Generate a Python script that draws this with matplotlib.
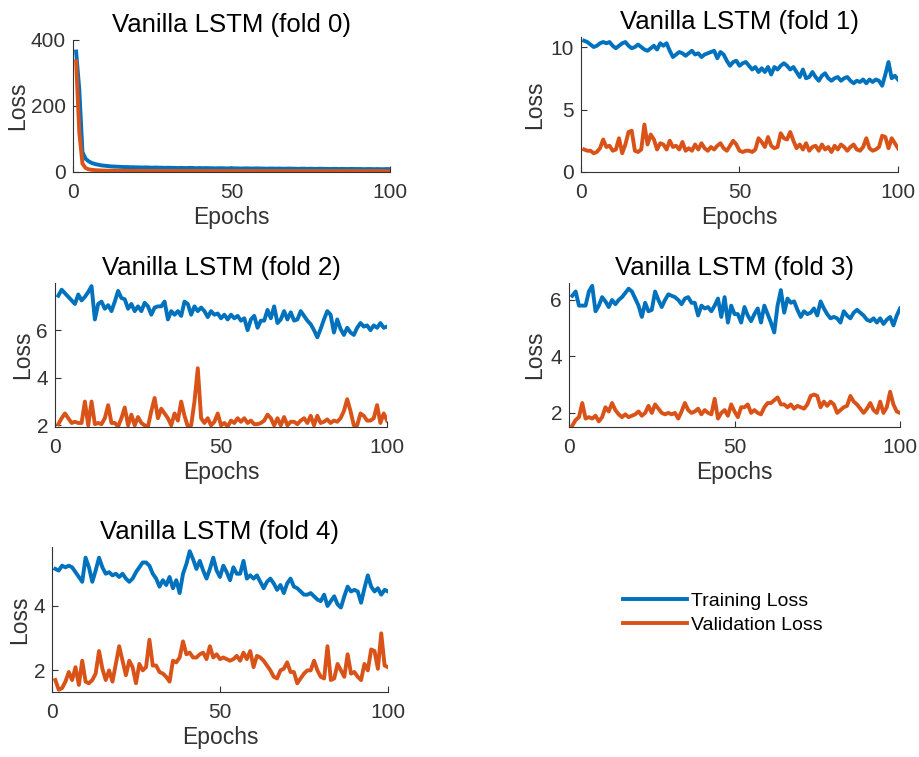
# Training / validation loss curves of a vanilla LSTM, one panel per fold
import matplotlib.pyplot as plt

plt.rcParams['font.family'] = ['Liberation Sans', 'DejaVu Sans']

# ---------------------------------------------------------------------------
# DATA
# ---------------------------------------------------------------------------
epochs = list(range(1, 101))
fold_titles = ['Vanilla LSTM (fold 0)', 'Vanilla LSTM (fold 1)', 'Vanilla LSTM (fold 2)',
               'Vanilla LSTM (fold 3)', 'Vanilla LSTM (fold 4)']
legend_labels = ['Training Loss', 'Validation Loss']

train_f0 = [365, 250, 60, 40, 32, 27, 24, 22, 20, 19,
            18, 17, 16.5, 16, 15.5, 15, 15, 14.5, 14.5, 14,
            14, 13.5, 14, 13.5, 13, 13.5, 13, 13, 12.5, 13,
            12.5, 12.5, 12, 12.5, 12, 12, 12.5, 12, 11.5, 12,
            11.5, 12, 11.5, 11.5, 11, 11.5, 11.5, 11, 11, 11.5,
            11, 11, 10.5, 11, 11, 10.5, 10.5, 11, 10.5, 10.5,
            10, 10.5, 10.5, 10, 10.5, 10, 10, 10.5, 10, 10,
            9.5, 10, 10, 9.5, 10, 9.5, 9.5, 10, 9.5, 9.5,
            9, 9.5, 9.5, 9, 9.5, 9, 9, 9.5, 9, 9,
            9, 8.5, 9, 9, 8.5, 9, 8.5, 8.5, 9, 8.5]
val_f0 = [335, 120, 25, 12, 8, 6.5, 5.5, 5, 4.5, 4.2,
          4, 3.8, 4.2, 3.6, 3.5, 3.9, 3.4, 3.3, 3.7, 3.2,
          3.5, 3.1, 3.4, 3.0, 3.3, 3.2, 2.9, 3.4, 3.0, 3.1,
          2.9, 3.3, 2.8, 3.0, 3.2, 2.8, 3.1, 2.9, 2.7, 3.2,
          2.8, 3.0, 2.9, 2.7, 3.1, 2.8, 2.9, 3.0, 2.6, 2.9,
          2.8, 3.0, 2.7, 2.8, 3.1, 2.7, 2.9, 2.6, 2.8, 3.0,
          2.7, 2.8, 2.9, 2.6, 3.0, 2.7, 2.8, 2.6, 2.9, 2.7,
          2.8, 2.6, 3.0, 2.7, 2.6, 2.9, 2.7, 2.8, 2.5, 2.8,
          2.7, 2.9, 2.6, 2.7, 2.8, 2.6, 2.9, 2.7, 2.5, 2.8,
          2.7, 2.6, 2.8, 2.7, 2.9, 2.6, 2.7, 2.8, 2.6, 2.7]

train_f1 = [10.5, 10.4, 10.2, 10.0, 10.1, 10.3, 10.4, 10.3, 10.4, 10.1,
            9.9, 10.1, 10.3, 10.4, 10.1, 9.9, 10.0, 10.2, 10.0, 9.8,
            9.7, 9.9, 10.1, 9.8, 10.3, 10.1, 10.3, 9.7, 9.2, 9.4,
            9.6, 9.5, 9.3, 9.5, 9.7, 9.4, 9.5, 9.2, 9.4, 9.5,
            9.6, 9.7, 9.1, 9.6, 9.4, 8.9, 8.5, 8.8, 8.9, 8.5,
            8.7, 8.8, 8.5, 8.2, 8.4, 8.0, 8.3, 8.0, 8.4, 7.8,
            8.4, 8.2, 8.5, 8.7, 8.5, 8.2, 8.4, 8.0, 7.6, 8.2,
            7.5, 7.6, 8.0, 7.6, 7.3, 7.7, 7.9, 7.5, 7.3, 7.5,
            7.6, 7.3, 7.5, 7.6, 7.3, 7.1, 7.3, 7.2, 7.4, 7.1,
            7.4, 7.2, 7.4, 7.3, 6.9, 7.8, 8.8, 7.5, 7.7, 7.4]
val_f1 = [1.8, 1.7, 1.7, 1.5, 1.6, 1.9, 2.6, 2.0, 2.1, 1.7,
          1.8, 2.7, 1.5, 2.2, 3.2, 3.3, 1.7, 1.6, 1.8, 3.8,
          2.2, 3.0, 2.6, 1.8, 2.3, 2.2, 1.8, 2.5, 2.0, 2.1,
          1.8, 2.4, 1.7, 1.9, 1.7, 2.2, 1.8, 2.3, 1.9, 1.7,
          2.0, 1.8, 2.1, 2.3, 1.9, 1.7, 2.1, 2.5, 2.2, 1.7,
          1.6, 1.7, 1.7, 1.6, 1.8, 2.7, 2.4, 2.0, 2.8, 2.1,
          1.9, 2.0, 3.1, 2.7, 2.6, 3.2, 2.5, 1.9, 2.2, 1.8,
          2.3, 1.7, 2.0, 2.1, 1.7, 2.2, 1.8, 2.0, 1.6, 2.1,
          1.8, 2.2, 2.0, 1.7, 2.0, 2.2, 1.8, 1.7, 2.0, 2.7,
          1.9, 1.7, 1.8, 2.0, 2.9, 2.8, 1.9, 2.7, 2.3, 1.9]

train_f2 = [7.45, 7.7, 7.55, 7.4, 7.25, 7.1, 7.5, 7.25, 7.4, 7.6,
            7.85, 6.45, 7.1, 7.2, 6.9, 7.05, 6.8, 7.2, 7.65, 7.35,
            7.3, 6.9, 7.1, 6.8, 7.0, 6.8, 7.15, 7.0, 6.65, 6.95,
            7.0, 7.0, 7.2, 6.45, 6.8, 6.65, 6.8, 6.6, 7.2, 7.1,
            6.65, 7.0, 6.8, 6.95, 6.8, 6.55, 6.8, 6.65, 6.7, 6.5,
            6.65, 6.45, 6.65, 6.5, 6.6, 6.4, 6.5, 6.0, 6.45, 6.6,
            6.1, 6.4, 6.4, 6.85, 6.5, 7.0, 6.3, 6.45, 6.8, 6.45,
            6.75, 6.4, 6.45, 6.8, 6.6, 6.4, 6.25, 6.0, 5.7, 6.05,
            6.45, 6.8, 6.65, 5.9, 6.45, 6.05, 5.8, 6.1, 5.9, 5.8,
            6.1, 6.3, 6.15, 6.2, 6.0, 6.2, 6.1, 6.3, 6.1, 6.15]
val_f2 = [2.05, 2.3, 2.5, 2.3, 2.1, 2.15, 2.1, 2.1, 3.0, 2.0,
          3.0, 2.05, 2.1, 2.05, 2.3, 2.85, 2.1, 2.1, 1.95, 2.3,
          2.75, 2.0, 2.45, 2.0, 2.35, 2.1, 2.0, 1.95, 2.6, 3.15,
          2.3, 2.7, 2.5, 2.3, 2.0, 2.5, 2.2, 3.0, 2.4, 1.95,
          2.0, 3.0, 4.4, 2.3, 2.1, 2.3, 2.0, 2.15, 2.5, 2.0,
          2.1, 1.95, 2.2, 2.1, 2.3, 2.15, 2.3, 2.1, 2.2, 2.05,
          2.05, 2.1, 2.2, 2.45, 2.3, 2.0, 2.3, 2.0, 2.35, 2.0,
          2.15, 2.15, 2.05, 2.2, 2.3, 2.1, 2.4, 2.0, 2.4, 2.1,
          2.15, 2.25, 2.1, 2.2, 2.15, 2.3, 2.6, 3.1, 2.6, 2.0,
          2.0, 2.5, 2.4, 2.2, 2.2, 2.3, 2.85, 2.1, 2.5, 2.2]

train_f3 = [6.15, 6.3, 5.8, 5.8, 5.8, 6.3, 6.5, 5.6, 5.8, 6.1,
            5.95, 5.75, 6.0, 5.85, 6.0, 6.1, 6.25, 6.4, 6.3, 6.05,
            5.8, 5.4, 5.9, 5.6, 5.65, 6.3, 6.0, 5.75, 6.0, 6.2,
            6.15, 6.1, 6.0, 5.85, 6.05, 6.1, 5.9, 5.9, 5.45, 5.8,
            5.7, 5.75, 5.6, 5.8, 6.05, 5.4, 6.1, 5.2, 5.8, 5.5,
            5.5, 5.2, 5.75, 5.45, 5.25, 5.5, 5.7, 5.2, 5.8, 5.5,
            5.2, 4.85, 5.8, 6.35, 5.55, 6.05, 5.9, 5.95, 5.65, 5.4,
            5.6, 5.5, 5.55, 5.7, 5.45, 5.95, 5.7, 5.5, 5.35, 5.4,
            5.35, 5.2, 5.6, 5.45, 5.35, 5.55, 5.65, 5.55, 5.45, 5.3,
            5.25, 5.35, 5.2, 5.35, 5.15, 5.3, 5.4, 5.1, 5.45, 5.7]
val_f3 = [1.55, 1.75, 1.85, 2.35, 1.8, 1.85, 1.8, 1.9, 1.7, 1.85,
          2.2, 2.05, 2.35, 2.1, 1.95, 1.85, 1.95, 1.85, 1.9, 1.95,
          2.05, 1.9, 2.0, 2.25, 2.0, 2.3, 2.15, 2.0, 1.95, 2.0,
          1.95, 2.0, 1.8, 2.05, 2.35, 2.1, 2.0, 2.05, 2.15, 1.95,
          2.1, 2.0, 1.95, 2.5, 1.8, 2.0, 2.1, 1.9, 2.3, 2.05,
          1.85, 2.2, 2.2, 2.3, 2.0, 2.1, 2.0, 1.95, 2.2, 2.35,
          2.35, 2.45, 2.55, 2.3, 2.3, 2.2, 2.3, 2.15, 2.25, 2.2,
          2.15, 2.3, 2.6, 2.65, 2.6, 2.2, 2.4, 2.25, 2.4, 2.3,
          2.0, 2.1, 2.2, 2.25, 2.6, 2.4, 2.3, 2.15, 2.0, 2.15,
          2.35, 2.1, 2.0, 2.4, 2.0, 2.2, 2.75, 2.3, 2.05, 2.0]

train_f4 = [5.15, 5.1, 5.25, 5.2, 5.25, 5.2, 5.05, 4.9, 4.75, 5.5,
            5.2, 4.75, 5.1, 5.5, 5.2, 5.0, 5.05, 4.95, 5.0, 4.9,
            5.0, 4.85, 4.75, 4.85, 5.05, 5.2, 5.35, 5.35, 5.25, 5.0,
            4.85, 4.6, 4.8, 4.65, 4.9, 4.55, 4.8, 4.4, 5.0, 5.3,
            5.7, 5.45, 5.15, 5.4, 5.1, 4.85, 5.15, 5.5, 5.1, 4.9,
            5.25, 5.05, 4.8, 5.2, 5.0, 5.0, 5.4, 4.85, 4.95, 4.85,
            4.95, 4.75, 4.55, 4.75, 4.85, 4.7, 4.5, 4.65, 4.4, 4.7,
            4.85, 4.6, 4.55, 4.45, 4.35, 4.35, 4.4, 4.3, 4.2, 4.15,
            4.35, 4.0, 4.15, 4.3, 4.05, 3.95, 4.3, 4.6, 4.45, 4.5,
            4.45, 4.1, 4.55, 4.95, 4.6, 4.45, 4.55, 4.35, 4.5, 4.45]
val_f4 = [1.7, 1.4, 1.45, 1.65, 1.95, 1.7, 2.1, 1.55, 2.3, 1.65,
          1.6, 1.7, 1.9, 2.6, 2.05, 1.7, 2.0, 1.65, 2.2, 2.75,
          2.3, 1.85, 2.3, 2.1, 1.6, 2.2, 2.0, 2.1, 2.95, 2.15,
          2.15, 1.95, 1.9, 1.8, 1.65, 2.3, 2.25, 2.4, 2.9, 2.5,
          2.55, 2.4, 2.4, 2.5, 2.55, 2.35, 2.75, 2.4, 2.5, 2.35,
          2.4, 2.35, 2.3, 2.35, 2.45, 2.3, 2.55, 2.35, 2.6, 2.1,
          2.45, 2.4, 2.3, 2.15, 2.0, 1.8, 1.75, 2.0, 2.05, 2.25,
          1.95, 1.95, 1.6, 1.75, 1.9, 2.0, 2.0, 2.3, 2.0, 1.8,
          1.75, 2.75, 1.7, 1.75, 2.2, 2.0, 1.8, 2.5, 1.9, 1.95,
          1.8, 1.7, 2.2, 2.0, 2.65, 2.6, 2.05, 3.15, 2.15, 2.1]

train_all = [train_f0, train_f1, train_f2, train_f3, train_f4]
val_all = [val_f0, val_f1, val_f2, val_f3, val_f4]

# ---------------------------------------------------------------------------
# LAYOUT AND STYLE
# ---------------------------------------------------------------------------
blue = '#0072BD'
orange = '#D95319'
gray = '#333333'

# axes boxes [left, bottom, width, height] in figure fractions
axes_pos = [[0.0793, 0.7728, 0.3446, 0.1744],
            [0.6315, 0.7728, 0.3446, 0.1783],
            [0.0598, 0.4359, 0.3609, 0.1902],
            [0.6185, 0.4359, 0.3598, 0.1902],
            [0.0565, 0.0859, 0.3652, 0.1915]]
y_limits = [(0, 400), (0, 10.8), (1.93, 7.98), (1.5, 6.6), (1.33, 5.83)]
y_ticks = [[0, 200, 400], [0, 5, 10], [2, 4, 6], [2, 4, 6], [2, 4]]
ylabel_pads = [1, 3, 2, 3, 2]

fig = plt.figure(figsize=(9.2, 7.57), dpi=100)

for i in range(5):
    ax = fig.add_axes(axes_pos[i])
    l1, = ax.plot(epochs, train_all[i], color=blue, linewidth=2.8)
    l2, = ax.plot(epochs, val_all[i], color=orange, linewidth=2.8)
    ax.set_xlim(0, 100)
    ax.set_ylim(*y_limits[i])
    ax.set_xticks([0, 50, 100])
    ax.set_yticks(y_ticks[i])
    # MATLAB look: box off, ticks pointing inwards
    ax.spines['top'].set_visible(False)
    ax.spines['right'].set_visible(False)
    for side in ['left', 'bottom']:
        ax.spines[side].set_color(gray)
        ax.spines[side].set_linewidth(0.8)
    ax.tick_params(direction='in', length=4, width=0.8, labelsize=15,
                   colors=gray)
    ax.tick_params(axis='x', pad=8)
    ax.tick_params(axis='y', pad=5)
    ax.set_title(fold_titles[i], fontsize=18.5, pad=6, color='black')
    ax.set_xlabel('Epochs', fontsize=16.5, color=gray, labelpad=3)
    ax.set_ylabel('Loss', fontsize=16.5, color=gray, labelpad=ylabel_pads[i])

fig.legend([l1, l2], legend_labels, loc='center', bbox_to_anchor=(0.786, 0.19),
           frameon=False, fontsize=14, handlelength=3.3, handletextpad=0.2,
           labelspacing=0.35)

fig.savefig('out.png', dpi=100)
